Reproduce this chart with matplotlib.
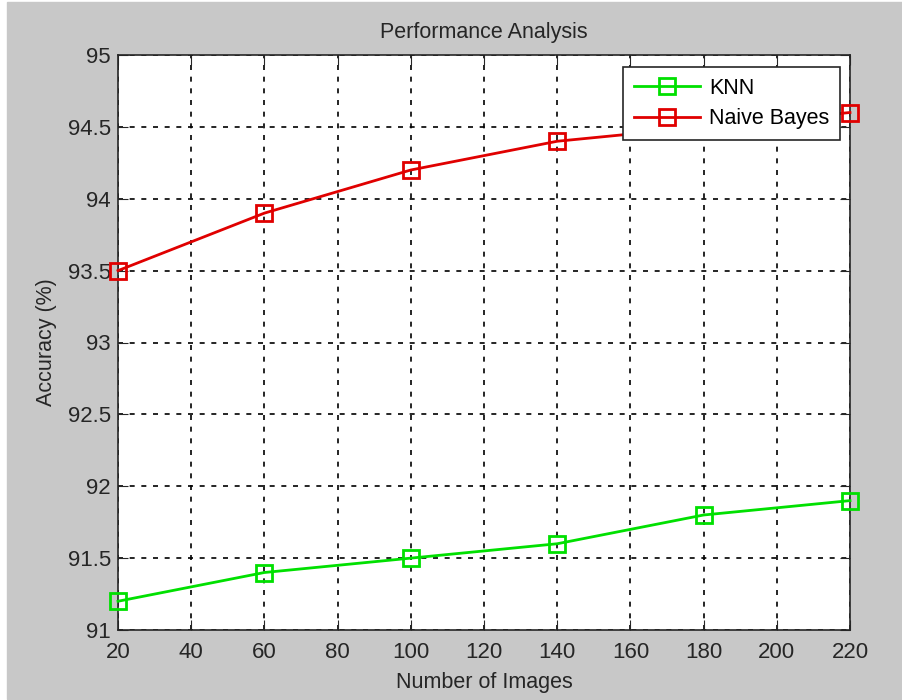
import numpy as np
import matplotlib
matplotlib.use("Agg")
import matplotlib.pyplot as plt
from matplotlib.patches import Rectangle

# number of images used for each run
images = [20, 60, 100, 140, 180, 220]

# accuracy values (%)
knn_acc = [91.2, 91.4, 91.5, 91.6, 91.8, 91.9]
nb_acc = [93.5, 93.9, 94.2, 94.4, 94.5, 94.6]

x_ticks = [20, 40, 60, 80, 100, 120, 140, 160, 180, 200, 220]
y_ticks = [91, 91.5, 92, 92.5, 93, 93.5, 94, 94.5, 95]

plt.rcParams['font.family'] = ['Liberation Sans', 'DejaVu Sans']

fig = plt.figure(figsize=(9.02, 7.0), dpi=100, facecolor="white")
# grey matlab-style window background (thin white strip on the left)
fig.patches.append(Rectangle((7 / 902, 1 / 700), 1, 1 - 3 / 700,
                             transform=fig.transFigure, color="#c8c8c8", zorder=-10))

ax = fig.add_axes([118 / 902, 1 - 630 / 700, (850 - 118) / 902, (630 - 55) / 700])
ax.set_facecolor("white")

ax.plot(images, knn_acc, color="#00e000", lw=2, marker="s", ms=11,
        mfc="none", mew=2, label="KNN", clip_on=False, zorder=3)
ax.plot(images, nb_acc, color="#e00000", lw=2, marker="s", ms=11,
        mfc="none", mew=2, label="Naive Bayes", clip_on=False, zorder=3)

ax.set_xlim(20, 220)
ax.set_ylim(91, 95)
ax.set_xticks(x_ticks)
ax.set_yticks(y_ticks)
ax.set_yticklabels([f"{v:g}" for v in y_ticks])
ax.grid(True, color="black", linestyle=(0, (3, 4)), linewidth=1.2)
ax.tick_params(direction="in", top=True, right=True, length=7,
               labelsize=16, colors="#262626")
ax.tick_params(axis="x", pad=9)
ax.tick_params(axis="y", pad=5)
for s in ax.spines.values():
    s.set_color("#262626")
    s.set_linewidth(1.2)

ax.set_title("Performance Analysis", fontsize=15.5, color="#262626", pad=12)
ax.set_xlabel("Number of Images", fontsize=15.5, color="#262626", labelpad=6)
ax.set_ylabel("Accuracy (%)", fontsize=15.5, color="#262626", labelpad=8)

leg = ax.legend(loc="upper right", bbox_to_anchor=((840 - 118) / 732, (630 - 67) / 575),
                fontsize=15.5, fancybox=False, framealpha=1, edgecolor="#262626",
                handlelength=3.1, handletextpad=0.4, borderpad=0.5,
                labelspacing=0.45, borderaxespad=0)
leg.get_frame().set_linewidth(1.2)
leg.set_zorder(5)

fig.savefig("out.png", dpi=100, facecolor=fig.get_facecolor())
